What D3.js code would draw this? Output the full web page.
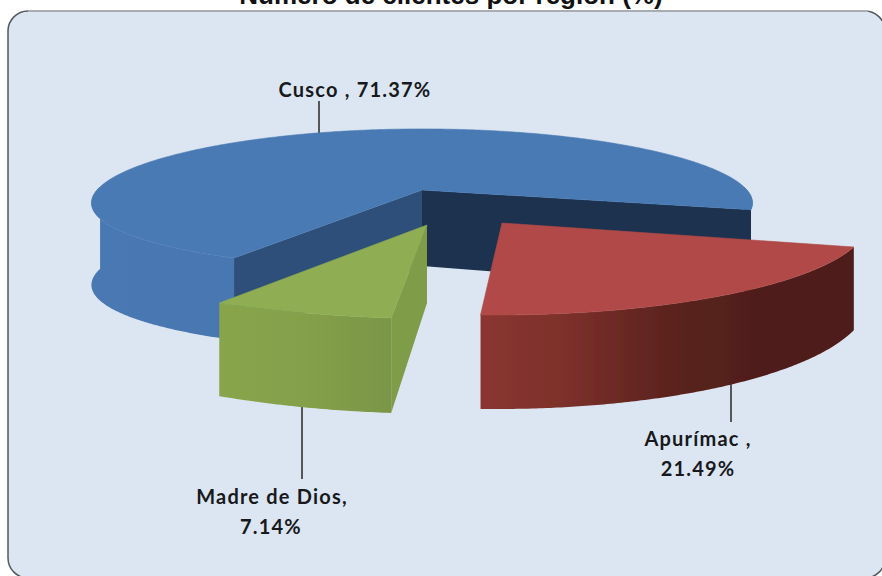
<!DOCTYPE html>
<html>
<head>
<meta charset="utf-8">
<script src="https://cdn.jsdelivr.net/npm/d3@7"></script>
<style>
	html, body { margin: 0; padding: 0; background: #fff; overflow: hidden; }
	svg { display: block; }
</style>
</head>
<body>
<svg id="chart" width="882" height="576"></svg>
<script>
const title = "Número de clientes por región (%)";
const regions = ["Apurímac", "Madre de Dios", "Cusco"];
const shares = [21.49, 7.14, 71.37];

// one projection per slice, the picture is a perspective view and the slices are pulled out
const views = {
	"Apurímac": {
		apex: [502, 223], ax: [366, 0], ay: [-1.4, 92], kx: 0, ky: 0, depth: [79, 15], apexDepth: 78,
		top: "#b04a46", wall: ["#8b3631", "#7a2f2a", "#5c231e", "#4f1e1a", "#4f1e1a"], radial: [null, null],
	},
	"Madre de Dios": {
		apex: [427, 225], ax: [406, -12], ay: [7.8, 93.6], kx: 0, ky: 0, depth: [80, 15], apexDepth: 78,
		top: "#8fae52", wall: ["#88a54c", "#84a04a", "#7a9647"], radial: ["#7f9c49", null],
	},
	"Cusco": {
		apex: [422, 190], ax: [325, 0], ay: [0, 69], kx: 0.183, ky: 0.13, depth: [82, 0], apexDepth: 76,
		top: "#4a7ab4", wall: ["#4a78b2", "#4673ac"], radial: ["#2f5079", "#1c3250"],
	},
};

// label lines with their leader, anchored on the text centre
const labels = [
	{ lines: [["Apurímac ,", 698, 439], ["21.49%", 698, 469]], leader: [731, 380, 422] },
	{ lines: [["Madre de Dios,", 272, 497], ["7.14%", 271, 527]], leader: [302, 400, 479] },
	{ lines: [["Cusco , 71.37%", 355, 90]], leader: [319, 101, 140] },
];

const svg = d3.select("#chart");
const defs = svg.append("defs");
defs.append("filter").attr("id", "soft")
	.append("feGaussianBlur").attr("stdDeviation", 0.5);

// panel
svg.append("rect")
	.attr("x", 8).attr("y", 11)
	.attr("width", 877).attr("height", 567)
	.attr("rx", 20)
	.attr("fill", "#dce6f2")
	.attr("stroke", "#55585c")
	.attr("stroke-width", 1.5);
svg.append("line")
	.attr("x1", 28).attr("x2", 868).attr("y1", 11).attr("y2", 11)
	.attr("stroke", "#a9adb2").attr("stroke-width", 2);

svg.append("text")
	.attr("x", 451).attr("y", 4)
	.attr("text-anchor", "middle")
	.attr("font-family", "Liberation Sans")
	.attr("font-size", 26)
	.attr("font-weight", 700)
	.attr("fill", "#111")
	.text(title);

// leaders sit behind the slices
svg.append("g").selectAll("line")
	.data(labels)
	.join("line")
	.attr("x1", (d) => d.leader[0]).attr("x2", (d) => d.leader[0])
	.attr("y1", (d) => d.leader[1]).attr("y2", (d) => d.leader[2])
	.attr("stroke", "#1a1a1a").attr("stroke-width", 1.4);

const pie = d3.pie().sort(null)
	.startAngle((106 * Math.PI) / 180)
	.endAngle((466 * Math.PI) / 180);

const arcs = pie(shares).map((d, i) => ({ ...d, region: regions[i] }));

const rimPoint = (v, t) => {
	const c = Math.cos(t), s = Math.sin(t);
	return [
		v.apex[0] + (v.ax[0] * c + v.ax[1] * s) / (1 - v.kx * s),
		v.apex[1] + (v.ay[0] * c + v.ay[1] * s) / (1 - v.ky * s),
	];
};
const depthAt = (v, t) => v.depth[0] + v.depth[1] * Math.sin(t);
const angles = (a0, a1) => d3.range(a0, a1, 0.01).concat([a1]);
const line = d3.line();

const chart = svg.append("g").attr("filter", "url(#soft)");

// back slice first so the pulled out ones cover it
const order = ["Cusco", "Madre de Dios", "Apurímac"];
order.forEach((name, n) => {
	const d = arcs.find((a) => a.region === name);
	const v = views[name];
	const t0 = d.startAngle - Math.PI / 2;
	const t1 = d.endAngle - Math.PI / 2;
	const ts = angles(t0, t1);

	// outer wall, only the part facing the viewer
	const runs = [];
	let run = null;
	ts.forEach((t) => {
		if (Math.sin(t) >= -0.05) {
			if (!run) { run = []; runs.push(run); }
			run.push(t);
		} else {
			run = null;
		}
	});

	const xs = d3.extent(ts.filter((t) => Math.sin(t) >= -0.05).map((t) => rimPoint(v, t)[0]));
	const gradId = "wall" + n;
	const grad = defs.append("linearGradient").attr("id", gradId)
		.attr("gradientUnits", "userSpaceOnUse")
		.attr("x1", xs[0]).attr("x2", xs[1]).attr("y1", 0).attr("y2", 0);
	grad.selectAll("stop").data(v.wall).join("stop")
		.attr("offset", (c, i) => i / (v.wall.length - 1))
		.attr("stop-color", (c) => c);

	chart.append("g").selectAll("path").data(runs).join("path")
		.attr("fill", "url(#" + gradId + ")")
		.attr("d", (r) => {
			const up = r.map((t) => rimPoint(v, t));
			const down = r.slice().reverse().map((t) => {
				const p = rimPoint(v, t);
				return [p[0], p[1] + depthAt(v, t)];
			});
			return line(up.concat(down)) + "Z";
		});

	// cut faces towards the centre
	[t0, t1].forEach((t, i) => {
		if (!v.radial[i]) return;
		const p = rimPoint(v, t);
		chart.append("path")
			.attr("fill", v.radial[i])
			.attr("d", line([
				v.apex, p,
				[p[0], p[1] + depthAt(v, t)],
				[v.apex[0], v.apex[1] + v.apexDepth],
			]) + "Z");
	});

	// top face
	chart.append("path")
		.attr("fill", v.top)
		.attr("stroke", v.top)
		.attr("stroke-width", 0.6)
		.attr("d", line([v.apex].concat(ts.map((t) => rimPoint(v, t)))) + "Z");
});

// data labels
svg.append("g")
	.attr("font-family", "Lato")
	.attr("font-weight", 700)
	.attr("font-size", 20)
	.attr("letter-spacing", 1.2)
	.attr("fill", "#17191c")
	.attr("text-anchor", "middle")
	.selectAll("text")
	.data(labels.flatMap((d) => d.lines))
	.join("text")
	.attr("x", (d) => d[1])
	.attr("y", (d) => d[2])
	.attr("dy", "0.35em")
	.text((d) => d[0]);
</script>
</body>
</html>
